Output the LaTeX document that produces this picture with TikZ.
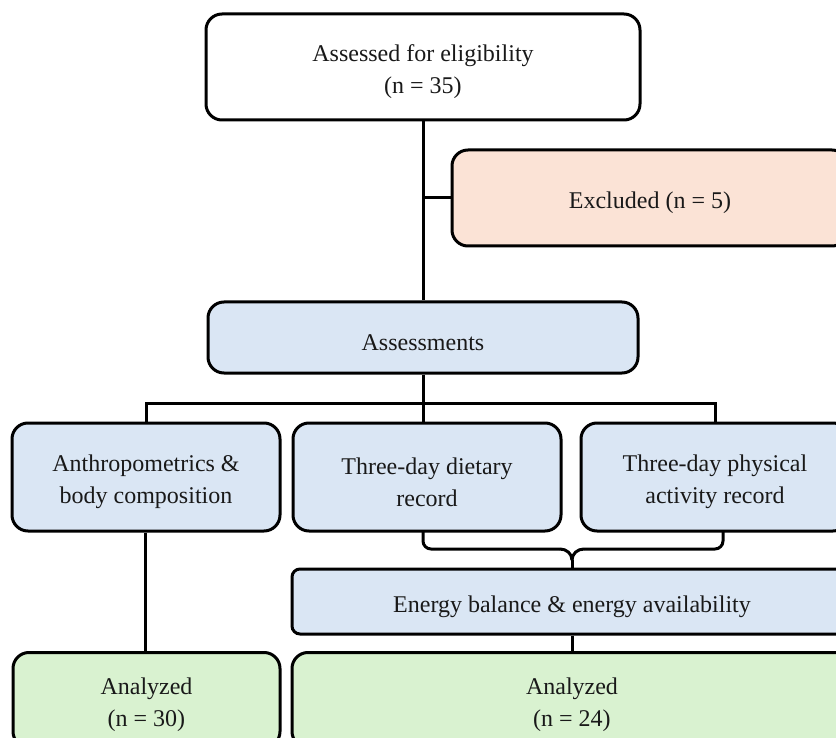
\documentclass[tikz,border=0pt]{standalone}
\usepackage{fontspec}
\setmainfont{Liberation Serif}
\definecolor{peach}{HTML}{FBE3D6}
\definecolor{lblue}{HTML}{DAE6F4}
\definecolor{lgreen}{HTML}{D9F2D0}
\begin{document}
\begin{tikzpicture}[x=1pt,y=-1pt,
  box/.style={draw=black, line width=3pt, rounded corners=16pt, inner sep=0pt},
  txt/.style={align=center, inner sep=0pt, yshift=-5pt,
    font=\fontsize{24}{32}\selectfont, text=black!90},
  conn/.style={draw=black, line width=3pt}]
\useasboundingbox (0,0) rectangle (836,738);
\node[box, fill=white, minimum width=434pt, minimum height=106pt,
  label={[txt]center:Assessed for eligibility\\(n = 35)}] (top) at (423,67) {};
\node[box, fill=peach, minimum width=396pt, minimum height=96pt,
  label={[txt]center:Excluded (n = 5)}] (excl) at (650,198) {};
\node[box, fill=lblue, minimum width=430pt, minimum height=71pt,
  label={[txt]center:Assessments}] (assess) at (423,337.5) {};
\node[box, fill=lblue, minimum width=268pt, minimum height=108pt,
  label={[txt]center:Anthropometrics \&\\body composition}] (anth) at (146,477) {};
\node[box, fill=lblue, minimum width=268pt, minimum height=108pt,
  label={[txt]center:Three-day dietary\\record}] (diet) at (427,477) {};
\node[box, fill=lblue, minimum width=268pt, minimum height=108pt,
  label={[txt]center:Three-day physical\\activity record}] (phys) at (715,477) {};
\node[box, fill=lblue, rounded corners=8pt, minimum width=560pt, minimum height=65pt,
  label={[txt]center:Energy balance \& energy availability}] (energy) at (572,601.5) {};
\node[box, fill=lgreen, minimum width=267pt, minimum height=95pt,
  label={[txt]center:Analyzed\\(n = 30)}] (an30) at (146.5,700) {};
\node[box, fill=lgreen, minimum width=560pt, minimum height=95pt,
  label={[txt]center:Analyzed\\(n = 24)}] (an24) at (572,700) {};

% top -> assessments, with branch to excluded
\coordinate (tb) at (423,120);
\coordinate (br) at (423,198);
\draw[conn] (tb) -- (tb |- assess.north);
\draw[conn] (br) -- (excl.west);

% assessments -> three boxes
\coordinate (bar) at (423,403);
\draw[conn] (assess.south -| bar) -- (diet.north -| bar);
\draw[conn] (anth.north) |- (bar) -| (phys.north);

% anthropometrics -> analyzed
\coordinate (al) at (145,0);
\draw[conn] (anth.south -| al) -- (an30.north -| al);

% brace from dietary & physical to energy
\coordinate (cusp) at (572,560);
\coordinate (bl) at (423,531);
\coordinate (brr) at (723,531);
\coordinate (bli) at (560,549);
\coordinate (bri) at (584,549);
\draw[conn, line join=round, rounded corners=8pt] (bl) |- (bli);
\draw[conn, line join=round, rounded corners=8pt] (brr) |- (bri);
\draw[conn] (bli) to[out=0,in=90] (cusp);
\draw[conn] (bri) to[out=180,in=90] (cusp);
\draw[conn] (cusp) -- (energy.north -| cusp);

% energy -> analyzed 24
\draw[conn] (energy.south) -- (an24.north);
\end{tikzpicture}
\end{document}
